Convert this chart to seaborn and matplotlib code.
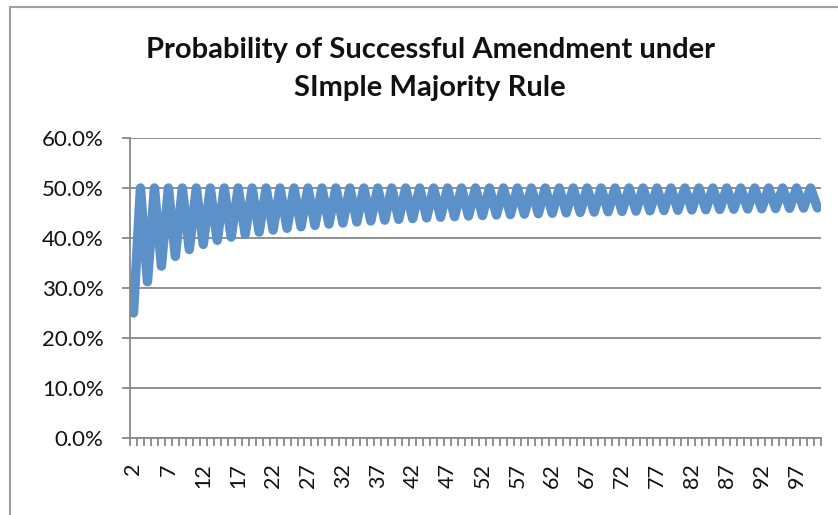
import numpy as np
import pandas as pd
import matplotlib.pyplot as plt
import seaborn as sns
from matplotlib.patches import Rectangle
from matplotlib.ticker import PercentFormatter, FixedLocator

# number of voters 2..100, probability
voters = list(range(2, 101))
even_probs = [0.2500, 0.3125, 0.3438, 0.3633, 0.3770, 0.3872, 0.3953, 0.4018, 0.4073, 0.4119,
              0.4159, 0.4194, 0.4225, 0.4253, 0.4278, 0.4300, 0.4321, 0.4340, 0.4357, 0.4373,
              0.4388, 0.4402, 0.4415, 0.4427, 0.4439, 0.4449, 0.4460, 0.4469, 0.4478, 0.4487,
              0.4495, 0.4503, 0.4511, 0.4518, 0.4525, 0.4531, 0.4538, 0.4544, 0.4550, 0.4555,
              0.4561, 0.4566, 0.4571, 0.4576, 0.4581, 0.4585, 0.4590, 0.4594, 0.4598, 0.4602]
odd_probs = [0.5000] * 49
probs = []
for i in range(49):
    probs.append(even_probs[i])
    probs.append(odd_probs[i])
probs.append(even_probs[49])

tick_labels = [str(v) for v in range(2, 101, 5)]

df = pd.DataFrame({'voters': voters, 'prob': probs})

sns.set_theme(style='white')
plt.rcParams['font.family'] = ['Lato', 'DejaVu Sans']

fig = plt.figure(figsize=(8.38, 5.15), dpi=100)
W, H = 838, 515
ax = fig.add_axes([130 / W, (H - 438) / H, (821 - 130) / W, 300 / H])

sns.lineplot(data=df, x='voters', y='prob', ax=ax, color='#5b91c8', linewidth=6.8,
             solid_capstyle='round', solid_joinstyle='round')

ax.set_xlim(1.5, 100.5)
ax.set_ylim(0, 0.6)
ax.yaxis.set_major_locator(FixedLocator([0, 0.1, 0.2, 0.3, 0.4, 0.5, 0.6]))
ax.yaxis.set_major_formatter(PercentFormatter(1.0, decimals=1))
ax.set_xticks(range(2, 101, 5))
ax.set_xticklabels(tick_labels, rotation=90)
ax.set_xticks(np.arange(1.5, 101, 1), minor=True)
ax.set_xlabel('')
ax.set_ylabel('')

grid_c = '#888888'
ax.grid(axis='y', color=grid_c, linewidth=1.3)
ax.set_axisbelow(True)
for s in ['top', 'right']:
    ax.spines[s].set_visible(False)
for s in ['left', 'bottom']:
    ax.spines[s].set_color(grid_c)
    ax.spines[s].set_linewidth(1.3)
ax.tick_params(axis='y', which='major', left=True, length=6, width=1.3, color=grid_c,
               labelsize=16, pad=13, labelcolor='#111111')
ax.tick_params(axis='x', which='major', bottom=False, labelsize=15.5, pad=12, labelcolor='#111111')
ax.tick_params(axis='x', which='minor', bottom=True, length=6, width=1.3, color=grid_c)

fig.text(430 / W, 1 - 50 / H, 'Probability of Successful Amendment under',
         ha='center', va='center', fontsize=21, fontweight='bold', color='#111111')
fig.text(430 / W, 1 - 88 / H, 'SImple Majority Rule',
         ha='center', va='center', fontsize=21, fontweight='bold', color='#111111')

fig.patches.append(Rectangle((10 / W, -0.1), 1.2, 1 - 7 / H + 0.1, transform=fig.transFigure,
                             fill=False, edgecolor='#a0a0a0', linewidth=1.5))

fig.savefig('out.png', dpi=100)
